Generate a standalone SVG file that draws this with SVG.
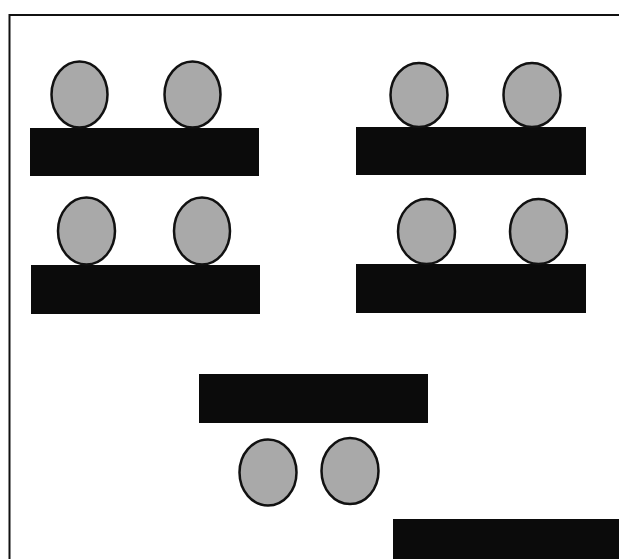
<svg xmlns="http://www.w3.org/2000/svg" width="619" height="559" viewBox="0 0 619 559">
<style>
.bar{fill:#0b0b0b}
.ball{fill:#a9a9a9;stroke:#111;stroke-width:2.5}
.frame{fill:none;stroke:#111;stroke-width:2}
</style>
<rect width="619" height="559" fill="#fff"/>
<path class="frame" d="M9.5,560 V15 H620"/>
<g id="groupA">
<g id="barA"><rect class="bar" x="30" y="128" width="229" height="48"/></g>
<g id="ballA1"><ellipse class="ball" cx="79.5" cy="94.5" rx="28" ry="33"/></g>
<g id="ballA2"><ellipse class="ball" cx="192.5" cy="94.5" rx="28" ry="33"/></g>
</g>
<g id="groupB">
<g id="barB"><rect class="bar" x="356" y="127" width="230" height="48"/></g>
<g id="ballB1"><ellipse class="ball" cx="419" cy="95" rx="28.5" ry="32"/></g>
<g id="ballB2"><ellipse class="ball" cx="532" cy="95" rx="28.5" ry="32"/></g>
</g>
<g id="groupC">
<g id="barC"><rect class="bar" x="31" y="265" width="229" height="49"/></g>
<g id="ballC1"><ellipse class="ball" cx="86.5" cy="231" rx="28.5" ry="33.5"/></g>
<g id="ballC2"><ellipse class="ball" cx="202" cy="231" rx="28" ry="33.5"/></g>
</g>
<g id="groupD">
<g id="barD"><rect class="bar" x="356" y="264" width="230" height="49"/></g>
<g id="ballD1"><ellipse class="ball" cx="426.5" cy="231.5" rx="28.5" ry="32.5"/></g>
<g id="ballD2"><ellipse class="ball" cx="538.5" cy="231.5" rx="28.5" ry="32.5"/></g>
</g>
<g id="groupE">
<g id="barE"><rect class="bar" x="199" y="374" width="229" height="49"/></g>
<g id="ballE1"><ellipse class="ball" cx="268" cy="472.5" rx="28.5" ry="33"/></g>
<g id="ballE2"><ellipse class="ball" cx="350" cy="471" rx="28.5" ry="33"/></g>
</g>
<g id="barF"><rect class="bar" x="393" y="519" width="226" height="40"/></g>
<g id="connectors"></g>
</svg>
